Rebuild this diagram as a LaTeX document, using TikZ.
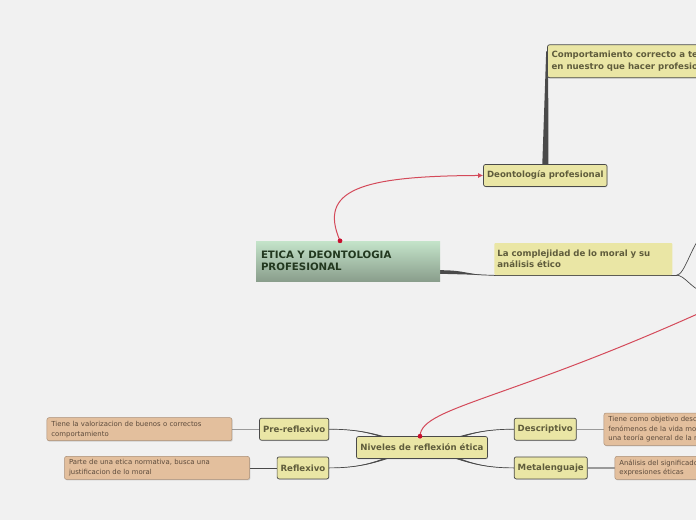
\documentclass[tikz,border=0pt]{standalone}
\usepackage{fontspec}
\setmainfont{DejaVu Sans}
\usetikzlibrary{arrows.meta,positioning,calc,shadows}

\definecolor{bgc}{HTML}{F1F1F1}
\definecolor{topicc}{HTML}{EAE6A5}
\definecolor{topict}{HTML}{5F5C3C}
\definecolor{notec}{HTML}{E3BF9D}
\definecolor{notet}{HTML}{5D4B3C}
\definecolor{linkc}{HTML}{4A4A4A}
\definecolor{feedc}{HTML}{9A9A9A}
\definecolor{relc}{HTML}{D44A5A}
\definecolor{dotc}{HTML}{C8102E}
\definecolor{rootc1}{HTML}{C4E4CA}
\definecolor{rootc2}{HTML}{8A9E8C}
\definecolor{rootct}{HTML}{22381F}

\pgfdeclarelayer{bg}
\pgfdeclarelayer{links}
\pgfsetlayers{bg,links,main}

% tapered branch from #1 to #2, half width #3
\newcommand{\branchto}[3]{%
  \path ($(#1)!0.5!(#2)$) coordinate (mid)
    ([yshift=#3]#1) coordinate (s1) ([yshift=-#3]#1) coordinate (s2);
  \fill[linkc] (s1) .. controls (s1 -| mid) and (#2 -| mid) .. (#2)
    .. controls (#2 -| mid) and (s2 -| mid) .. (s2) -- cycle;
  \draw[linkc,line width=0.7pt] (#1) .. controls (#1 -| mid) and (#2 -| mid) .. (#2);}

\begin{document}
\begin{tikzpicture}[x=1pt,y=-1pt,
  topic/.style={rectangle, draw=linkc, line width=0.7pt, rounded corners=2pt, fill=topicc,
    text=topict, font=\fontsize{8.6}{12}\selectfont\bfseries, inner xsep=3.5pt, minimum height=22pt,
    drop shadow={shadow xshift=0.6pt, shadow yshift=-0.8pt, opacity=0.25}},
  note/.style={rectangle, draw=notec!75!black, line width=0.5pt, rounded corners=2pt, fill=notec,
    text=notet, font=\fontsize{6.9}{9.8}\selectfont, align=left, text width=176pt,
    inner xsep=4.5pt, inner ysep=3pt, minimum height=23pt,
    drop shadow={shadow xshift=0.8pt, shadow yshift=-1pt, opacity=0.3}},
  rootbox/.style={rectangle, top color=rootc1, bottom color=rootc2, text=rootct,
    font=\fontsize{10.2}{12.5}\selectfont\bfseries, align=left, text width=174pt, inner xsep=5pt,
    minimum height=40pt, drop shadow={shadow xshift=0pt, shadow yshift=-0.8pt, opacity=0.25}},
  link/.style={draw=linkc, line width=0.7pt},
  feed/.style={draw=feedc, line width=1.4pt},
  rel/.style={draw=relc, line width=1pt},
  reldot/.style={circle, fill=dotc, inner sep=0pt, minimum size=4.5pt}]

\begin{pgfonlayer}{bg}
\fill[bgc] (0,0) rectangle (696,520);
\end{pgfonlayer}
\useasboundingbox (0,0) rectangle (696,520);
\clip (0,0) rectangle (696,520);

\node (root) [rootbox] at (348,261) {ETICA Y DEONTOLOGIA\\PROFESIONAL};

\node (deon) [topic, above right=54pt and 43pt of root] {Deontología profesional};

\node (comp) [topic, align=left, inner xsep=4pt, minimum height=33pt,
  above right=86pt and 64pt of deon.north west]
{Comportamiento correcto a tener\\en nuestro que hacer profesional};

\node (complex) [rectangle, fill=topicc, text=topict, rounded corners=1pt,
  font=\fontsize{8.6}{11.5}\selectfont\bfseries, align=left, text width=172pt,
  inner xsep=3pt, minimum height=32pt, right=54pt of root, yshift=2pt]
{La complejidad de lo moral y su\\análisis ético};

\node (niv) [topic, inner xsep=4pt, below=155pt of root, xshift=74pt] {Niveles de reflexión ética};

\node (pre) [topic, above left=7pt and 27pt of niv.west] {Pre-reflexivo};
\node (refl) [topic, below left=9pt and 27pt of niv.west] {Reflexivo};
\node (desc) [topic, above right=7pt and 26pt of niv.east] {Descriptivo};
\node (meta) [topic, below right=9pt and 26pt of niv.east] {Metalenguaje};

\node (prenote) [note, left=27pt of pre]
{Tiene la valorizacion de buenos o correctos\\comportamiento};
\node (reflnote) [note, left=27pt of refl]
{Parte de una etica normativa, busca una\\justificacion de lo moral};
\node (descnote) [note, right=27pt of desc]
{Tiene como objetivo describir los\\fenómenos de la vida moral para elaborar\\una teoría general de la moral};
\node (metanote) [note, right=27pt of meta]
{Análisis del significado de las\\expresiones éticas};

\begin{pgfonlayer}{links}
% deontologia
\coordinate (compin) at ([yshift=10pt]comp.west);
\fill[linkc] ([xshift=-3pt]deon.north) -- ([xshift=-1pt]compin)
  -- ([xshift=1pt]compin) -- ([xshift=3pt]deon.north) -- cycle;

% root to complejidad
\coordinate (rootout) at ([yshift=-11pt]root.east);
\branchto{rootout}{complex.south west}{1.8pt}
\draw[link] (complex.south west) -- (complex.south east) -- ++(4,0) coordinate (fork);
\coordinate (offup) at (702,236);
\coordinate (offdown) at (702,291);
\draw[link] (fork) .. controls +(8,0) and +(-10,8) .. (offup);
\draw[link] (fork) .. controls +(8,0) and +(-10,-2) .. (offdown);

% niveles
\coordinate (nivl) at ([xshift=-25pt]niv.center);
\coordinate (nivr) at ([xshift=25pt]niv.center);
\branchto{nivr}{pre.east}{2pt}
\branchto{nivr}{refl.east}{2pt}
\branchto{nivl}{desc.west}{2pt}
\branchto{nivl}{meta.west}{2pt}

% notes
\draw[feed] (prenote.east) -- (pre.west);
\draw[link] (reflnote.east) -- (refl.west);
\draw[feed, line width=1pt] (descnote.west) -- (desc.east);
\draw[feed] (metanote.west) -- (meta.east);
\end{pgfonlayer}

% relations
\node (rootdot) [reldot] at ([xshift=-8pt]root.north) {};
\draw[rel, -{Latex[length=5pt,width=5pt]}] (rootdot.center)
  .. controls (318,190) and (360,176) .. (deon.west);
\node (nivdot) [reldot] at ([xshift=-2pt]niv.north) {};
\coordinate (offrel) at (760,285);
\draw[rel] (nivdot.center) .. controls (421,405) and (520,400) .. (offrel);
\node [reldot] at (nivdot) {};
\node [reldot] at (rootdot) {};

\end{tikzpicture}
\end{document}
